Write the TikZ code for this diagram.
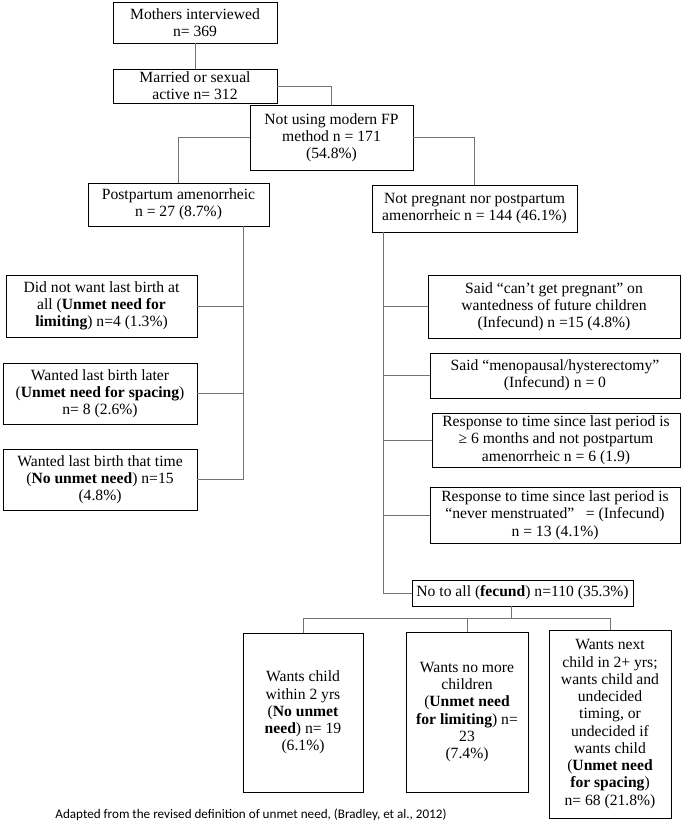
\documentclass[tikz,border=0pt]{standalone}
\usepackage{fontspec}
\setmainfont{Liberation Serif}
\newfontfamily\notefont{Carlito}

\begin{document}
\begin{tikzpicture}[x=0.8pt,y=-0.8pt,
  stage/.style={draw,line width=0.7pt,align=center,inner sep=1pt,font=\fontsize{12.5}{13.8}\selectfont},
  dims/.style 2 args={minimum width=#1*0.8pt,minimum height=#2*0.8pt},
  link/.style={draw=black!55,line width=0.7pt}]
\useasboundingbox (0,0) rectangle (685,829);
% top of the tree
\node[stage,dims={164}{41}] (mothers) at (195,22.5) {Mothers interviewed\\n= 369};
\node[stage,dims={164}{34}] (married) at (195,86) {Married or sexual\\active n= 312};
\node[stage,dims={163}{65}] (notusing) at (331.5,137.5) {Not using modern FP\\method n = 171\\(54.8\%)};
\node[stage,dims={181}{43}] (postpartum) at (178.5,204.5) {Postpartum amenorrheic\\n = 27 (8.7\%)};
\node[stage,dims={205}{47}] (notpreg) at (474.5,208.5) {Not pregnant nor postpartum\\amenorrheic n = 144 (46.1\%)};
% left branch
\node[stage,dims={191}{62}] (didnot) at (101.5,306) {Did not want last birth at\\all (\textbf{Unmet need for}\\\textbf{limiting}) n=4 (1.3\%)};
\node[stage,dims={194}{61}] (later) at (100,393.5) {Wanted last birth later\\(\textbf{Unmet need for spacing})\\n= 8 (2.6\%)};
\node[stage,dims={194}{61}] (thattime) at (100,479.5) {Wanted last birth that time\\(\textbf{No unmet need}) n=15\\(4.8\%)};
% right branch
\node[stage,dims={252}{63}] (cant) at (554,306.5) {Said “can’t get pregnant” on\\wantedness of future children\\(Infecund) n =15 (4.8\%)};
\node[stage,dims={250}{45}] (meno) at (555,375.5) {Said “menopausal/hysterectomy”\\(Infecund) n = 0};
\node[stage,dims={248}{54}] (six) at (556,440) {Response to time since last period is\\≥ 6 months and not postpartum\\amenorrheic n = 6 (1.9)};
\node[stage,dims={250}{56}] (never) at (555,515) {Response to time since last period is\\“never menstruated”\ \ \ = (Infecund)\\n = 13 (4.1\%)};
\node[stage,dims={221}{26}] (notoall) at (522.5,593) {No to all (\textbf{fecund}) n=110 (35.3\%)};
% fecund women
\node[stage,dims={120}{159}] (wantsoon) at (303,712.5) {Wants child\\within 2 yrs\\(\textbf{No unmet}\\\textbf{need}) n= 19\\(6.1\%)};
\node[stage,dims={122}{160}] (nomore) at (467,712) {Wants no more\\children\\(\textbf{Unmet need}\\\textbf{for limiting}) n=\\23\\(7.4\%)};
\node[stage,dims={122}{188}] (spacing) at (610,724) {Wants next\\child in 2+ yrs;\\wants child and\\undecided\\timing, or\\undecided if\\wants child\\(\textbf{Unmet need}\\\textbf{for spacing})\\n= 68 (21.8\%)};
\node[font=\notefont\fontsize{10.5}{12}\selectfont] (note) at (251,815) {Adapted from the revised definition of unmet need, (Bradley, et al., 2012)};

% connectors
\coordinate (lspine) at (243,0);
\coordinate (rspine) at (383,0);
\coordinate (split) at (511,618);
\draw[link] (mothers) -- (married);
\draw[link] (married.east) -| (notusing.north);
\draw[link] (notusing.west) -| (postpartum.north);
\draw[link] (notusing.east) -| (notpreg.north);
\draw[link] (postpartum.south -| lspine) |- (thattime.east);
\draw[link] (didnot.east) -- (didnot.east -| lspine);
\draw[link] (later.east) -- (later.east -| lspine);
\draw[link] (notpreg.south -| rspine) |- (notoall.west);
\foreach \b in {cant,meno,six,never}
  \draw[link] (\b.west) -- (\b.west -| rspine);
\draw[link] (notoall.south -| split) -- (split);
\draw[link] (wantsoon.north) -- (wantsoon.north |- split) -- (spacing.north |- split) -- (spacing.north);
\draw[link] (nomore.north) -- (nomore.north |- split);
\end{tikzpicture}
\end{document}
